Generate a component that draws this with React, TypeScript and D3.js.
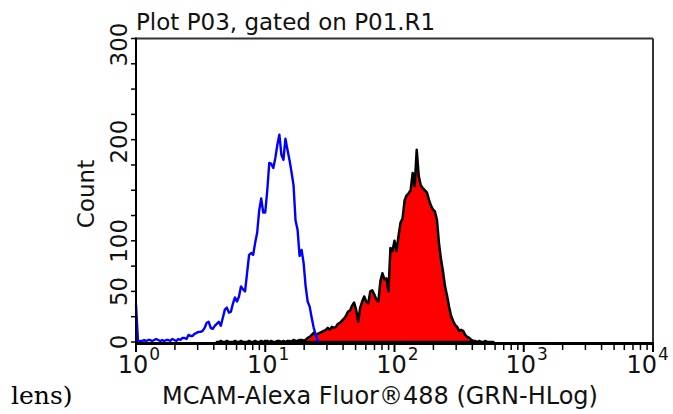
import React from "react";
import * as d3 from "d3";

// Histogram bins: 64 bins per decade over 10^0 .. 10^4
const binsPerDecade = 64;

// Blue (control) histogram counts, starting at bin 0
const blueStart = 0;
const blueCounts = [
  37, 0, 1, 1, 2, 1, 2, 2, 1, 2, 3, 2, 1, 2, 1, 2, 2, 1, 3, 2, 1,
  3, 2, 4, 4, 3, 7, 6, 6, 8, 9, 10, 10, 11, 14, 19, 20, 14, 13, 16,
  18, 20, 16, 24, 32, 34, 29, 30, 38, 44, 40, 45, 55, 52, 50, 68, 86, 88, 86, 98,
  108, 130, 142, 128, 128, 150, 177, 176, 172, 182, 195, 205, 185, 180, 201, 190, 180, 168, 155, 120,
  111, 85, 91, 78, 55, 40, 35, 24, 14, 7, 1, 0,
];

// Red (MCAM stained) histogram counts, starting at bin 40
const redStart = 40;
const redCounts = [
  0, 0, 1, 0, 0, 1, 0, 0, 0, 1, 0, 0, 1, 0, 0, 0, 1, 0, 0, 1,
  0, 0, 1, 0, 1, 1, 0, 1, 0, 0, 1, 1, 0, 1, 0, 1, 1, 0, 2, 1,
  1, 2, 2, 1, 2, 4, 5, 7, 9, 7, 8, 9, 10, 11, 12, 14, 12, 15, 14, 15,
  18, 19, 21, 23, 26, 30, 31, 36, 39, 32, 20, 34, 40, 45, 40, 38, 50, 51, 47, 42,
  40, 60, 68, 62, 63, 50, 93, 90, 100, 90, 105, 118, 122, 140, 145, 147, 150, 167, 154, 190,
  164, 155, 152, 150, 148, 141, 135, 131, 129, 121, 98, 82, 70, 55, 46, 35, 26, 21, 17, 15,
  11, 12, 11, 7, 5, 4, 2, 1, 1, 0, 1, 0, 0, 1, 0, 0, 0, 0,
];

const yTicks = [0, 25, 50, 75, 100, 125, 150, 175, 200, 225, 250, 275, 300];
const yLabels = [0, 50, 100, 200, 300];
const decades = [0, 1, 2, 3, 4];

const title = "Plot P03, gated on P01.R1";
const xTitle = "MCAM-Alexa Fluor®488 (GRN-HLog)";
const yTitle = "Count";
const strayText = "lens)";

const W = 673;
const H = 414;
const FONT = "'DejaVu Sans', Verdana, sans-serif";

export default function App() {
  const left = 136;
  const right = 653;
  const top = 38.5;
  const bottom = 342;

  const x = d3.scaleLog().domain([1, 1e4]).range([left, right]);
  const y = d3.scaleLinear().domain([0, 300]).range([bottom, top]);

  const binVal = (i: number) => Math.pow(10, i / binsPerDecade);

  const bluePts = blueCounts.map((c, k) => [binVal(blueStart + k), c] as [number, number]);
  const redPts = redCounts.map((c, k) => [binVal(redStart + k), c] as [number, number]);

  const line = d3
    .line<[number, number]>()
    .x((d) => x(d[0]))
    .y((d) => y(d[1]));
  const area = d3
    .area<[number, number]>()
    .x((d) => x(d[0]))
    .y0(y(0))
    .y1((d) => y(d[1]));

  const minorTicks: number[] = [];
  for (let dd = 0; dd < 4; dd++) {
    for (let m = 2; m <= 9; m++) minorTicks.push(m * Math.pow(10, dd));
  }

  // tick label geometry: "10" (24px) + superscript (17px)
  const baseW = 30.5;
  const expW = 11;
  const labelW = baseW + 1 + expW;

  return (
    <svg
      width={W}
      height={H}
      style={{ position: "absolute", left: 0, top: 0, background: "#fff" }}
      fontFamily={FONT}
    >
      <rect x={0} y={0} width={W} height={H} fill="#fff" />
      {/* frame top/right */}
      <line x1={left} x2={right} y1={top} y2={top} stroke="#333" strokeWidth={2} />
      <line x1={right} x2={right} y1={top} y2={bottom + 1} stroke="#333" strokeWidth={2} />

      {/* red filled histogram */}
      <path d={area(redPts) || ""} fill="#ff0000" stroke="#000" strokeWidth={2.5} strokeLinejoin="round" />
      {/* blue outline histogram */}
      <path d={line(bluePts) || ""} fill="none" stroke="#0000ff" strokeWidth={2.4} strokeLinejoin="round" />

      {/* left axis */}
      <line x1={left} x2={left} y1={top - 1} y2={bottom + 3} stroke="#000" strokeWidth={2} />
      {yTicks.map((t) => (
        <line key={"yt" + t} x1={left - 5} x2={left} y1={y(t)} y2={y(t)} stroke="#000" strokeWidth={1.5} />
      ))}
      {yLabels.map((t) => (
        <text
          key={"yl" + t}
          transform={`translate(127,${y(t) + (t === 300 ? 6 : t === 200 ? 2 : 0)}) rotate(-90)`}
          textAnchor="middle"
          fontSize={23}
          fill="#111"
        >
          {t}
        </text>
      ))}

      {/* bottom axis */}
      <line x1={left - 1} x2={right + 1} y1={bottom + 1.5} y2={bottom + 1.5} stroke="#000" strokeWidth={3} />
      {minorTicks.map((t, i) => (
        <line key={"xm" + i} x1={x(t)} x2={x(t)} y1={bottom} y2={bottom + 8} stroke="#000" strokeWidth={1.5} />
      ))}
      {decades.map((dd) => (
        <line
          key={"xM" + dd}
          x1={x(Math.pow(10, dd))}
          x2={x(Math.pow(10, dd))}
          y1={bottom}
          y2={bottom + 10}
          stroke="#000"
          strokeWidth={2}
        />
      ))}
      {decades.map((dd) => {
        const cx = Math.min(x(Math.pow(10, dd)) + 3, W - 4 - labelW / 2);
        const x0 = cx - labelW / 2;
        return (
          <g key={"xl" + dd}>
            <text x={x0} y={373} textAnchor="start" fontSize={24} fill="#111">
              10
            </text>
            <text x={x0 + baseW + 1} y={360} textAnchor="start" fontSize={17} fill="#111">
              {dd}
            </text>
          </g>
        );
      })}

      {/* titles */}
      <text x={left} y={30} fontSize={23} fill="#111">
        {title}
      </text>
      <text x={380} y={404} textAnchor="middle" fontSize={24} fill="#111">
        {xTitle}
      </text>
      <text transform="translate(94,194) rotate(-90)" textAnchor="middle" fontSize={23} fill="#111">
        {yTitle}
      </text>
      <text x={11} y={404} fontFamily="'DejaVu Serif', serif" fontSize={25} fill="#000">
        {strayText}
      </text>
    </svg>
  );
}
